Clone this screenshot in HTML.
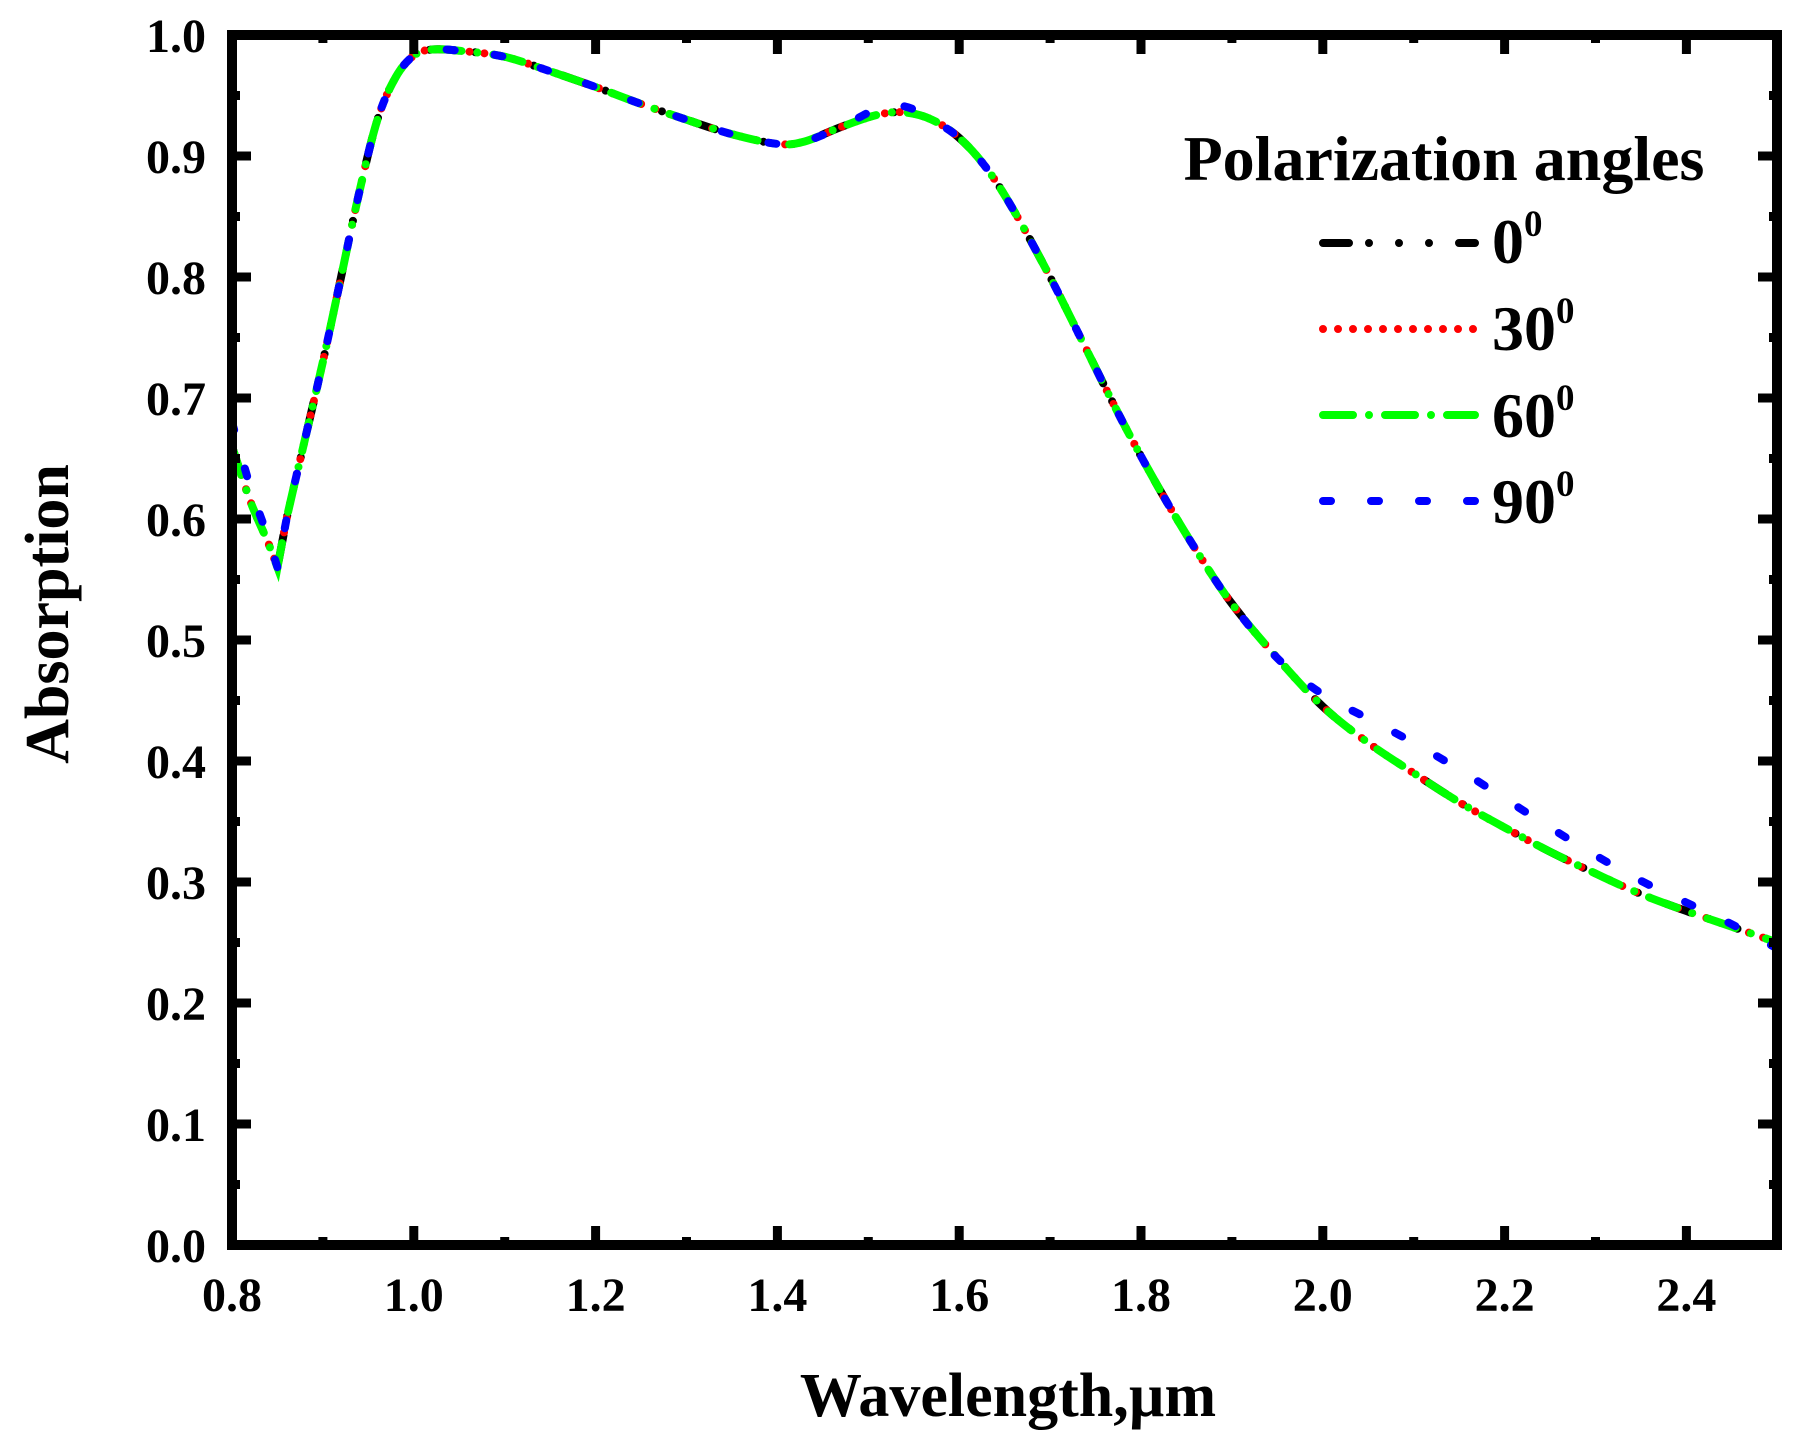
<!DOCTYPE html>
<html><head><meta charset="utf-8"><style>
html,body{margin:0;padding:0;background:#fff;}
svg{display:block;}
text{font-family:"Liberation Serif",serif;font-weight:bold;fill:#000;}
</style></head><body>
<svg id="s" width="1808" height="1444" xmlns="http://www.w3.org/2000/svg">
<g id="curves"></g>
<g id="axes" stroke="#000" stroke-width="10" fill="none">
<rect x="232" y="35" width="1545" height="1210"/>
</g>
<g id="ticks" stroke="#000" stroke-width="9"></g>
<g id="labels" font-size="48"></g>
<text x="1008" y="1416" font-size="62" text-anchor="middle">Wavelength,µm</text>
<text transform="translate(68,614) rotate(-90)" font-size="62" text-anchor="middle">Absorption</text>
<text x="1444" y="180" font-size="64" text-anchor="middle">Polarization angles</text>
<g stroke-width="8" stroke-linecap="round" fill="none">
<line x1="1323" y1="243" x2="1475" y2="243" stroke="#000" stroke-dasharray="26 20 0 30 0 30 0 30"/>
<line x1="1323" y1="329" x2="1475" y2="329" stroke="#f00" stroke-dasharray="0 15"/>
<line x1="1323" y1="415" x2="1475" y2="415" stroke="#0f0" stroke-dasharray="30 16 0 16"/>
<line x1="1323" y1="501" x2="1475" y2="501" stroke="#00f" stroke-dasharray="8 40"/>
</g>
<g font-size="64">
<text x="1492" y="263">0<tspan dy="-27" font-size="37">0</tspan></text>
<text x="1492" y="350">30<tspan dy="-27" font-size="37">0</tspan></text>
<text x="1492" y="437">60<tspan dy="-27" font-size="37">0</tspan></text>
<text x="1492" y="523">90<tspan dy="-27" font-size="37">0</tspan></text>
</g>
</svg>
<script>
var X=function(v){return 232+(v-0.8)*909;},Y=function(v){return 1245-v*1210;};
var NS="http://www.w3.org/2000/svg";
function el(p,n,a){var e=document.createElementNS(NS,n);for(var k in a)e.setAttribute(k,a[k]);p.appendChild(e);return e;}
var tk=document.getElementById('ticks'),lb=document.getElementById('labels');
for(var i=0;i<=17;i++){var x=X(0.8+i*0.1),L=(i%2==0)?19:8;
 el(tk,'line',{x1:x,y1:1245,x2:x,y2:1245-L});el(tk,'line',{x1:x,y1:35,x2:x,y2:35+L});
 if(i%2==0&&i<17){var t=el(lb,'text',{x:x,y:1311,'text-anchor':'middle'});t.textContent=(0.8+i*0.1).toFixed(1);}}
for(var i=0;i<=20;i++){var y=Y(i*0.05),L=(i%2==0)?19:8;
 el(tk,'line',{x1:232,y1:y,x2:232+L,y2:y});el(tk,'line',{x1:1777,y1:y,x2:1777-L,y2:y});
 if(i%2==0){var t=el(lb,'text',{x:206,y:y+17,'text-anchor':'end'});t.textContent=(i*0.05).toFixed(1);}}
var base=[[0.8,0.66],[0.82,0.615],[0.84,0.58],[0.85,0.56],[0.86,0.6],[0.88,0.665],[0.9,0.73],[0.92,0.8],[0.94,0.87],[0.96,0.93],[0.98,0.965],[1.0,0.983],[1.02,0.988],[1.05,0.987],[1.1,0.982],[1.15,0.97],[1.2,0.957],[1.25,0.943],[1.3,0.93],[1.35,0.918],[1.4,0.91],[1.43,0.912],[1.47,0.924],[1.51,0.934],[1.54,0.936],[1.57,0.93],[1.6,0.915],[1.63,0.89],[1.66,0.855],[1.7,0.8],[1.74,0.74],[1.78,0.68],[1.82,0.625],[1.86,0.575],[1.9,0.53],[1.95,0.485],[2.0,0.445],[2.05,0.415],[2.1,0.39],[2.15,0.366],[2.2,0.345],[2.25,0.325],[2.3,0.307],[2.35,0.29],[2.4,0.276],[2.45,0.263],[2.5,0.25]];
var dev={2.0:0.01,2.05:0.02,2.1:0.025,2.15:0.027,2.2:0.024,2.25:0.02,2.3:0.015,2.35:0.011,2.4:0.007,2.45:0.002,2.5:-0.005};
var blue=base.map(function(p){var x=p[0],y=p[1];
 if(x<0.85)y+= (0.85-x)*0.4;
 if(x>=1.5&&x<=1.56)y+=0.005;
 var k=x.toFixed(2).replace(/0$/,'');if(dev[x]!==undefined)y+=dev[x];
 return [x,y];});
function path(pts){var p=pts.map(function(a){return [X(a[0]),Y(a[1])];});
 var d='M'+p[0][0]+','+p[0][1];
 for(var i=0;i<p.length-1;i++){var p0=p[Math.max(0,i-1)],p1=p[i],p2=p[i+1],p3=p[Math.min(p.length-1,i+2)];
  if(i==2||i==3){d+=' L'+p2[0]+','+p2[1];continue;}
  var c1=[p1[0]+(p2[0]-p0[0])/6,p1[1]+(p2[1]-p0[1])/6],c2=[p2[0]-(p3[0]-p1[0])/6,p2[1]-(p3[1]-p1[1])/6];
  d+=' C'+c1+' '+c2+' '+p2;}
 return d;}
var g=document.getElementById('curves');
var defs=[['#000','26 20 0 30 0 30 0 30',base],['#f00','0 15',base],['#0f0','30 16 0 16',base],['#00f','8 40',blue]];
defs.forEach(function(s){el(g,'path',{d:path(s[2]),stroke:s[0],'stroke-width':8,'stroke-linecap':'round',fill:'none','stroke-dasharray':s[1]});});
</script>
</body></html>
